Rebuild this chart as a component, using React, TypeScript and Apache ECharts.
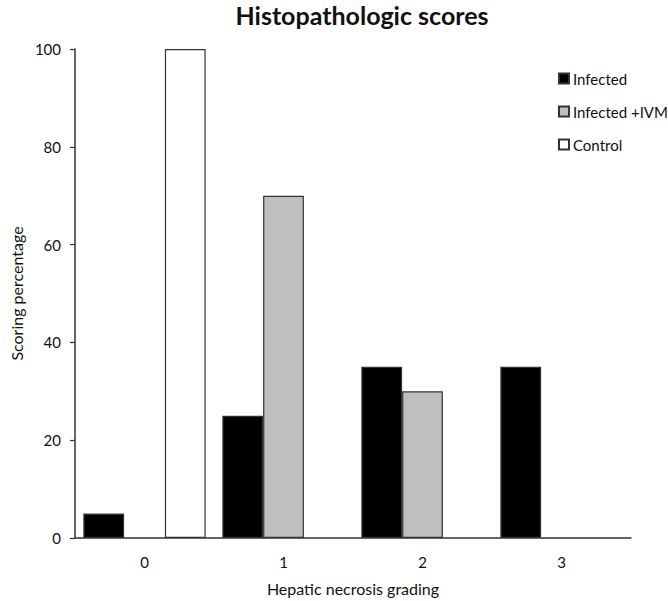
import React, { useEffect, useRef } from "react";
import * as echarts from "echarts";

const categories = ["0", "1", "2", "3"];
const infected = [5, 25, 35, 35];
const infectedIvm = [0, 70, 30, 0];
const control = [100, 0, 0, 0];
const seriesNames = ["Infected", "Infected +IVM", "Control"];

const FONT = "Lato, 'Open Sans', sans-serif";

export default function App() {
  const ref = useRef<HTMLDivElement>(null);
  useEffect(() => {
    document.body.style.margin = "0";
    const chart = echarts.init(ref.current!, undefined, { renderer: "svg" });
    const mk = (name: string, data: number[], color: string) => ({
      name,
      type: "bar",
      data: data.map((v) => (v === 0 ? "-" : v)),
      barGap: "0%",
      barCategoryGap: "12%",
      itemStyle: { color, borderColor: "#333", borderWidth: 1.2 },
    });
    chart.setOption({
      animation: false,
      backgroundColor: "#fff",
      textStyle: { fontFamily: FONT },
      title: {
        text: "Histopathologic scores",
        left: 357,
        top: -3,
        textAlign: "center",
        textStyle: { fontSize: 25, fontWeight: "bold", color: "#111", fontFamily: FONT },
      },
      legend: {
        orient: "vertical",
        left: 553,
        top: 66,
        itemWidth: 10,
        itemHeight: 10,
        itemGap: 18,
        icon: "rect",
        data: seriesNames,
        textStyle: { fontSize: 15, color: "#111", fontFamily: FONT, padding: [0, 0, 0, -1] },
      },
      grid: { left: 67, top: 49, right: 37, bottom: 59, containLabel: false },
      xAxis: {
        type: "category",
        data: categories,
        name: "Hepatic necrosis grading",
        nameLocation: "middle",
        nameGap: 42,
        nameTextStyle: { fontSize: 16, color: "#111", fontFamily: FONT },
        axisLine: { lineStyle: { color: "#333", width: 1.5 } },
        axisTick: { show: false },
        axisLabel: { fontSize: 15, color: "#111", margin: 16, fontFamily: FONT },
      },
      yAxis: {
        type: "value",
        min: 0,
        max: 100,
        interval: 20,
        name: "Scoring percentage",
        nameLocation: "middle",
        nameGap: 47,
        nameTextStyle: { fontSize: 16, color: "#111", fontFamily: FONT },
        axisLine: { show: true, lineStyle: { color: "#333", width: 1.5 } },
        axisTick: { show: true, length: 5, lineStyle: { color: "#333", width: 1.2 } },
        splitLine: { show: false },
        axisLabel: { fontSize: 15, color: "#111", margin: 14, fontFamily: FONT },
      },
      series: [
        mk(seriesNames[0], infected, "#000000"),
        mk(seriesNames[1], infectedIvm, "#bfbfbf"),
        mk(seriesNames[2], control, "#ffffff"),
      ],
    });
    return () => chart.dispose();
  }, []);
  return <div ref={ref} style={{ width: 668, height: 601 }} />;
}
